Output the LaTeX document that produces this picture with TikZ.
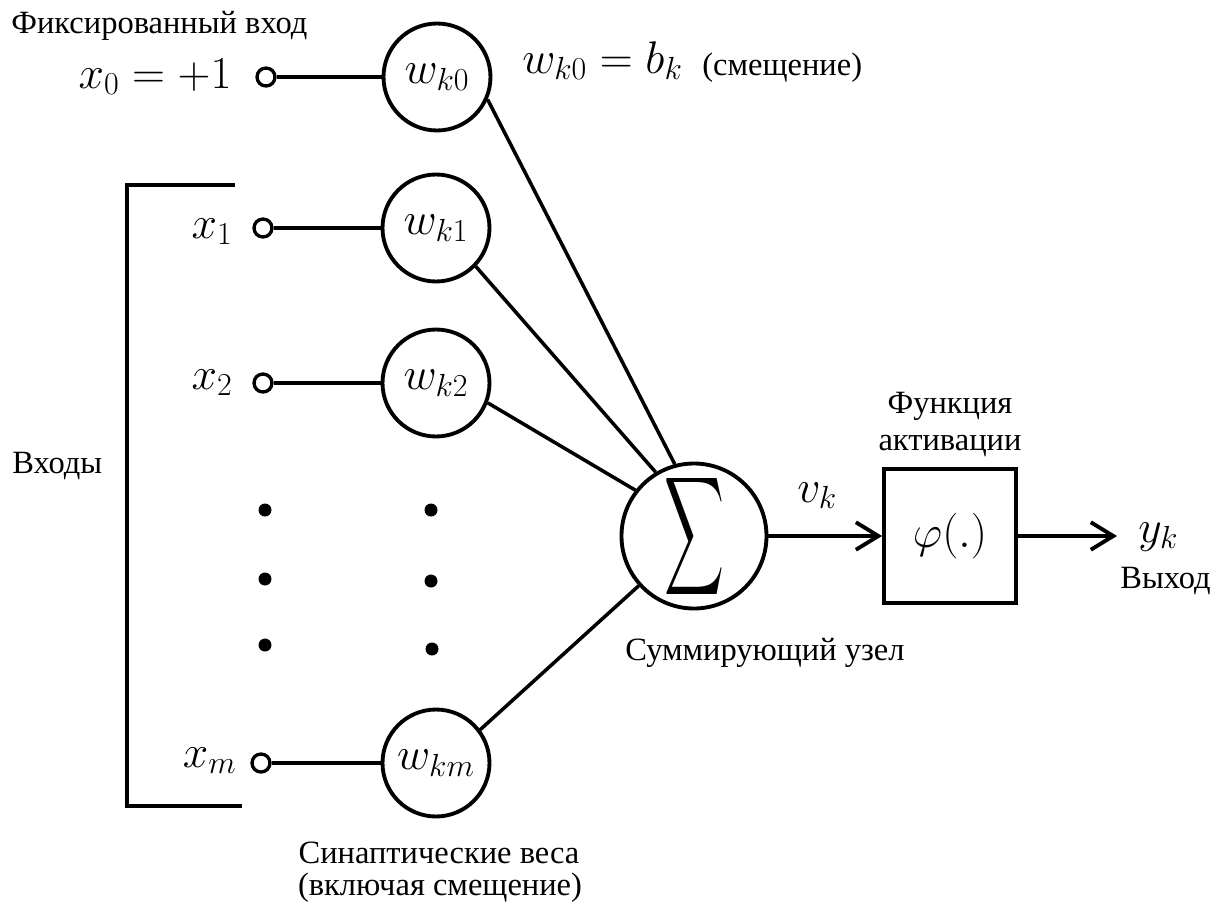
\RequirePackage{fix-cm}
\documentclass[tikz,border=0pt]{standalone}
\usepackage{fontspec}
\setmainfont{Liberation Serif}
\newfontfamily\tnr{Liberation Serif}
\usepackage{graphicx}
\usetikzlibrary{arrows.meta}
\begin{document}
\begin{tikzpicture}[x=0.02cm,y=-0.02cm,
 lw/.style={line width=2.2pt},
 dl/.style={line width=2pt},
 wnode/.style={circle,draw,line width=2.2pt,minimum size=2.14cm,inner sep=0pt,font=\fontsize{26}{30}\selectfont},
 inp/.style={circle,draw,line width=1.9pt,minimum size=0.36cm,inner sep=0pt,fill=white},
 txt/.style={inner sep=0pt,font=\tnr\fontsize{18.5}{22}\selectfont},
 mlab/.style={inner sep=0pt,font=\fontsize{26}{30}\selectfont},
 dotn/.style={circle,fill,inner sep=0pt,minimum size=0.26cm},
 arr/.style={line width=2.2pt,-{Straight Barb[length=0.45cm,width=0.55cm,line width=2.2pt]}}
]
\useasboundingbox (0,0) rectangle (1228,906);
% weight circles
\node[wnode] (w0) at (437,77) {$w_{k0}$};
\node[wnode] (w1) at (436,228) {$w_{k1}$};
\node[wnode] (w2) at (436,383) {$w_{k2}$};
\node[wnode] (wm) at (436,763) {$w_{km}$};
% input terminals
\node[inp] (x0) at (266,77) {};
\node[inp] (x1) at (263,228) {};
\node[inp] (x2) at (263,383) {};
\node[inp] (xm) at (261,763) {};
% input labels
\node[mlab,anchor=base east] (lx0) at (232,88) {$x_0=+1$};
\node[mlab,anchor=base east] (lx1) at (233,238) {$x_1$};
\node[mlab,anchor=base east] (lx2) at (233,389) {$x_2$};
\node[mlab,anchor=base east] (lxm) at (237,767) {$x_m$};
% summing node
\node[circle,draw,line width=2.2pt,minimum size=2.88cm,inner sep=0pt] (sum) at (694,536) {\resizebox{1.2cm}{1.74cm}{$\displaystyle\sum$}};
% activation box
\node[draw,line width=2.2pt,minimum width=2.64cm,minimum height=2.68cm,inner sep=0pt,font=\fontsize{26}{30}\selectfont] (phi) at (950,536) {$\varphi(.)$};
\coordinate (out) at (1117,536);
% connectors
\draw[lw] (x0) -- (w0);
\draw[lw] (x1) -- (w1);
\draw[lw] (x2) -- (w2);
\draw[lw] (xm) -- (wm);
\draw[dl] (w0.-24) -- (sum.105);
\draw[dl] (w1.-44) -- (sum.121);
\draw[dl] (w2.-21) -- (sum.142);
\draw[dl] (wm.37) -- (sum.222);
\draw[arr] (sum) -- (phi);
\draw[arr] (phi) -- (out);
% bracket
\coordinate (bt) at (235,185);
\coordinate (bb) at (242,806);
\draw[lw] (bt) -| (127,806) -- (bb);
% dots
\node[dotn] (d1) at (265,510) {};
\node[dotn] (d2) at (265,579) {};
\node[dotn] (d3) at (265,645) {};
\node[dotn] (d4) at (431,510) {};
\node[dotn] (d5) at (431,581) {};
\node[dotn] (d6) at (432,649) {};
% labels
\node[txt,anchor=base west] (tfix) at (11,33) {Фиксированный вход};
\node[mlab,anchor=base west] (tbias) at (522,73) {$w_{k0}=b_k$};
\node[txt,anchor=base west] (tsm) at (702,75) {(смещение)};
\node[txt,anchor=base west] (tin) at (12,473) {Входы};
\node[mlab,anchor=base west] (tv) at (797,502) {$v_k$};
\node[mlab,anchor=base west] (ty) at (1138,542) {$y_k$};
\node[txt,anchor=base] (tf1) at (950,413) {Функция};
\node[txt,anchor=base] (tf2) at (950,450) {активации};
\node[txt,anchor=base west] (tout) at (1120,588) {Выход};
\node[txt,anchor=base west] (tsum) at (625,660) {Суммирующий узел};
\node[txt,anchor=base] (tsyn1) at (439,863) {Синаптические веса};
\node[txt,anchor=base] (tsyn2) at (440,895) {(включая смещение)};
\end{tikzpicture}
\end{document}
